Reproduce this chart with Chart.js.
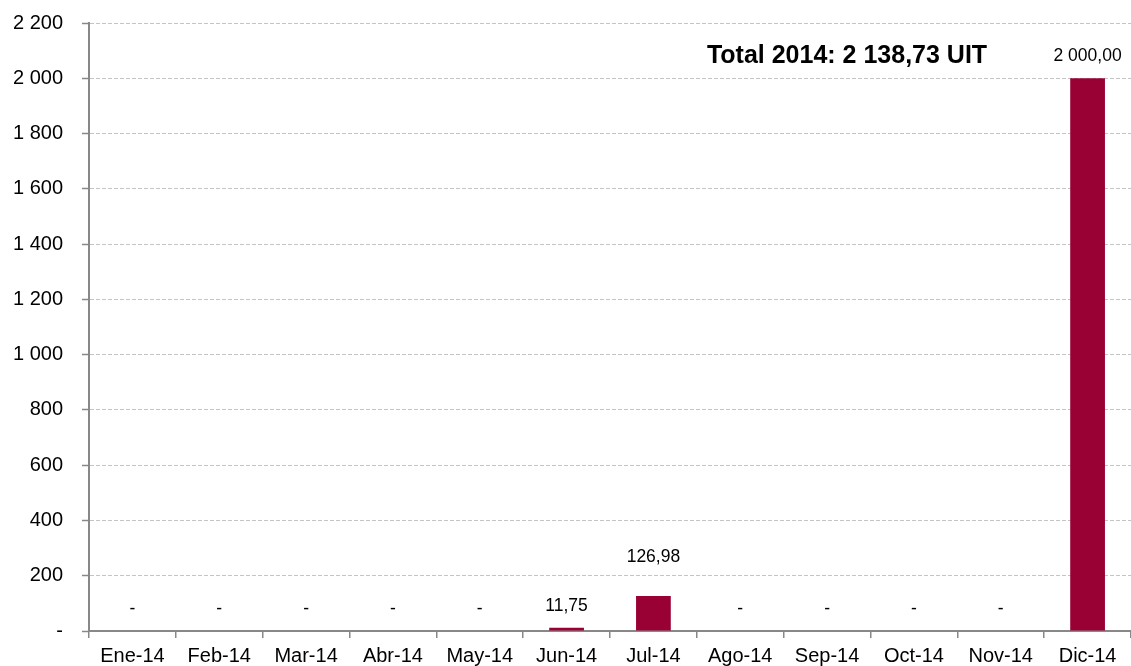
<!DOCTYPE html>
<html>
<head>
<meta charset="utf-8">
<script src="https://cdn.jsdelivr.net/npm/chart.js@4/dist/chart.umd.min.js"></script>
<style>
  html, body { margin: 0; padding: 0; background: #fff; overflow: hidden; }
</style>
</head>
<body>
<canvas id="chart" width="1131" height="666"></canvas>
<script>
const months = ["Ene-14", "Feb-14", "Mar-14", "Abr-14", "May-14", "Jun-14",
  "Jul-14", "Ago-14", "Sep-14", "Oct-14", "Nov-14", "Dic-14"];
const uit = [0, 0, 0, 0, 0, 11.75, 126.98, 0, 0, 0, 0, 2000];
const totalText = "Total 2014: 2 138,73 UIT";

const font = "'Liberation Sans', Arial, sans-serif";
const barColor = "#990033";
const axisColor = "#888888";
const gridColor = "#c4c4c4";

// "2 000,00" style numbers
const fmt = (value, decimals) => {
  const [int, dec] = value.toFixed(decimals).split(".");
  const grouped = int.replace(/\B(?=(\d{3})+(?!\d))/g, " ");
  return dec ? `${grouped},${dec}` : grouped;
};

// Value labels above bars, the Jul label sits a bit higher in the original
const valueLabels = {
  id: "valueLabels",
  afterDatasetsDraw(chart) {
    const { ctx } = chart;
    const meta = chart.getDatasetMeta(0);
    ctx.save();
    ctx.font = `17.5px ${font}`;
    ctx.fillStyle = "#000";
    ctx.textAlign = "center";
    ctx.textBaseline = "middle";
    meta.data.forEach((bar, i) => {
      const v = uit[i];
      const text = v === 0 ? "-" : fmt(v, 2);
      const lift = months[i] === "Jul-14" ? 39 : 22;
      ctx.fillText(text, bar.x, bar.y - lift);
    });
    ctx.restore();
  },
};

const totalLabel = {
  id: "totalLabel",
  afterDraw(chart) {
    const { ctx } = chart;
    ctx.save();
    ctx.font = `bold 25px ${font}`;
    ctx.fillStyle = "#000";
    ctx.textAlign = "center";
    ctx.textBaseline = "middle";
    ctx.fillText(totalText, 847, 56);
    ctx.restore();
  },
};

new Chart(document.getElementById("chart"), {
  type: "bar",
  data: {
    labels: months,
    datasets: [{
      data: uit,
      backgroundColor: barColor,
      borderWidth: 0,
      barPercentage: 0.4,
      categoryPercentage: 1,
    }],
  },
  options: {
    responsive: false,
    animation: false,
    layout: { padding: { top: 23, right: 0, bottom: 0, left: 0 } },
    plugins: {
      legend: { display: false },
      tooltip: { enabled: false },
    },
    scales: {
      x: {
        afterFit: (scale) => {
          scale.height = 35;
          scale.paddingLeft = 0;
          scale.paddingRight = 0;
        },
        grid: {
          offset: true,
          drawOnChartArea: false,
          drawTicks: true,
          tickLength: 7,
          color: axisColor,
          lineWidth: 1.5,
        },
        border: { display: true, color: axisColor, width: 2 },
        ticks: {
          color: "#000",
          font: { family: font, size: 20 },
          padding: 6,
          maxRotation: 0,
          autoSkip: false,
        },
      },
      y: {
        min: 0,
        max: 2200,
        afterFit: (scale) => {
          scale.width = 89;
          scale.paddingTop = 0;
          scale.paddingBottom = 0;
        },
        grid: {
          color: gridColor,
          lineWidth: 1,
          tickLength: 7,
          tickColor: axisColor,
          tickWidth: 1.5,
          tickBorderDash: [],
        },
        border: { display: true, color: axisColor, width: 2, dash: [4, 2] },
        ticks: {
          stepSize: 200,
          color: "#000",
          font: { family: font, size: 20 },
          padding: 19,
          callback: (v) => (v === 0 ? "-" : fmt(v, 0)),
        },
      },
    },
  },
  plugins: [valueLabels, totalLabel],
});
</script>
</body>
</html>
